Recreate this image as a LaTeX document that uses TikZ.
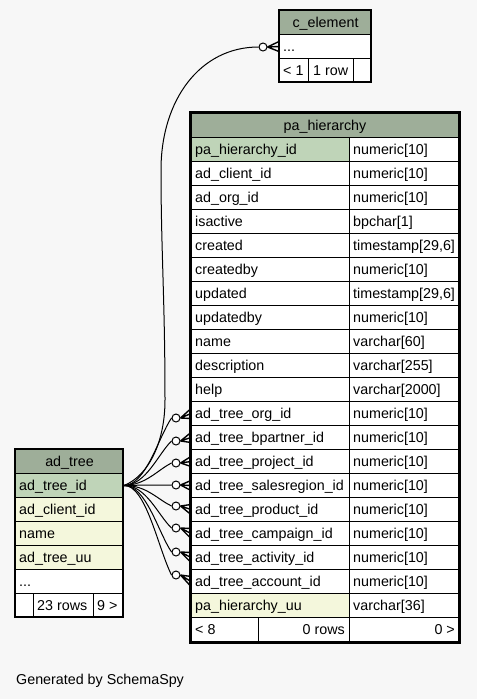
\documentclass[tikz,border=0pt]{standalone}
\usepackage{fontspec}
\setmainfont{Liberation Sans}
\usetikzlibrary{calc}
\definecolor{bg}{HTML}{F7F7F7}
\definecolor{hdr}{HTML}{9EAE99}
\definecolor{pk}{HTML}{BFD4B8}
\definecolor{idx}{HTML}{F4F7DC}
\newcommand\tf{\fontsize{14.3}{16}\selectfont}
\tikzset{
  cellbox/.style={draw=black, line width=1pt, minimum height=24, inner sep=0, anchor=north west},
  ltext/.style={anchor=base west, inner sep=0, font=\tf},
  rtext/.style={anchor=base east, inner sep=0, font=\tf},
  ctext/.style={anchor=base, inner sep=0, font=\tf},
  conn/.style={draw=black, line width=1pt},
  crow/.style={draw=black, line width=1.4pt},
  odot/.style={circle, draw=black, line width=1pt, fill=white, minimum size=8, inner sep=0},
}
% pa_hierarchy row
\newcommand\prow[4]{%
  \node[cellbox, fill=#4, minimum width=158] (pn#1) at (191,{137+24*#1}) {};
  \node[cellbox, fill=white, minimum width=109] (pt#1) at (349,{137+24*#1}) {};
  \node[ltext] at ($(pn#1.west)+(4,4.5)$) {#2};
  \node[ltext] at ($(pt#1.west)+(4,4.5)$) {#3};}
% foreign key connector from ad_tree.ad_tree_id to pa_hierarchy row
\newcommand\fkline[2]{%
  \node[odot] (o#1) at (176,#2) {};
  \draw[conn] (atid.east) .. controls (146,485) and (158,{#2+0.3*(485-#2)}) .. (o#1.west);
  \draw[crow] (o#1.east) -- ($(pn#1.west)+(0,-5)$)
              (o#1.east) -- (pn#1.west)
              (o#1.east) -- ($(pn#1.west)+(0,5)$);}
\begin{document}
\begin{tikzpicture}[x=1pt,y=-1pt]
\fill[bg] (0,0) rectangle (477,699);
\useasboundingbox (0,0) rectangle (477,699);

% ---------- c_element ----------
\node[cellbox, fill=hdr, minimum width=92] (ch) at (279,10) {};
\node[ctext] at ($(ch.center)+(0,4.5)$) {c\_element};
\node[cellbox, fill=white, minimum width=92] (cdots) at (279,34) {};
\node[ltext] at ($(cdots.west)+(4,4.5)$) {...};
\node[cellbox, fill=white, minimum width=29] (cf1) at (279,58) {};
\node[cellbox, fill=white, minimum width=45] (cf2) at (308,58) {};
\node[cellbox, fill=white, minimum width=18] (cf3) at (353,58) {};
\node[ltext] at ($(cf1.west)+(4,4.5)$) {< 1};
\node[ltext] at ($(cf2.west)+(5,4.5)$) {1 row};
\draw[line width=1.5pt] (279,10) rectangle (371,82);

% ---------- pa_hierarchy ----------
\node[cellbox, fill=hdr, minimum width=267] (ph) at (191,113) {};
\node[ctext] at ($(ph.center)+(0,4.5)$) {pa\_hierarchy};
\prow{0}{pa\_hierarchy\_id}{numeric[10]}{pk}
\prow{1}{ad\_client\_id}{numeric[10]}{white}
\prow{2}{ad\_org\_id}{numeric[10]}{white}
\prow{3}{isactive}{bpchar[1]}{white}
\prow{4}{created}{timestamp[29,6]}{white}
\prow{5}{createdby}{numeric[10]}{white}
\prow{6}{updated}{timestamp[29,6]}{white}
\prow{7}{updatedby}{numeric[10]}{white}
\prow{8}{name}{varchar[60]}{white}
\prow{9}{description}{varchar[255]}{white}
\prow{10}{help}{varchar[2000]}{white}
\prow{11}{ad\_tree\_org\_id}{numeric[10]}{white}
\prow{12}{ad\_tree\_bpartner\_id}{numeric[10]}{white}
\prow{13}{ad\_tree\_project\_id}{numeric[10]}{white}
\prow{14}{ad\_tree\_salesregion\_id}{numeric[10]}{white}
\prow{15}{ad\_tree\_product\_id}{numeric[10]}{white}
\prow{16}{ad\_tree\_campaign\_id}{numeric[10]}{white}
\prow{17}{ad\_tree\_activity\_id}{numeric[10]}{white}
\prow{18}{ad\_tree\_account\_id}{numeric[10]}{white}
\prow{19}{pa\_hierarchy\_uu}{varchar[36]}{idx}
\node[cellbox, fill=white, minimum width=67] (pf1) at (191,617) {};
\node[cellbox, fill=white, minimum width=91] (pf2) at (258,617) {};
\node[cellbox, fill=white, minimum width=109] (pf3) at (349,617) {};
\node[ltext] at ($(pf1.west)+(4,4.5)$) {< 8};
\node[rtext] at ($(pf2.east)+(-5,4.5)$) {0 rows};
\node[rtext] at ($(pf3.east)+(-4,4.5)$) {0 >};
\draw[line width=3pt] (190,112) rectangle (459,642);

% ---------- ad_tree ----------
\node[cellbox, fill=hdr, minimum width=108] (ah) at (15,449) {};
\node[ctext] at ($(ah.center)+(0,4.5)$) {ad\_tree};
\node[cellbox, fill=pk, minimum width=108] (atid) at (15,473) {};
\node[ltext] at ($(atid.west)+(4,4.5)$) {ad\_tree\_id};
\node[cellbox, fill=idx, minimum width=108] (acl) at (15,497) {};
\node[ltext] at ($(acl.west)+(4,4.5)$) {ad\_client\_id};
\node[cellbox, fill=idx, minimum width=108] (anm) at (15,521) {};
\node[ltext] at ($(anm.west)+(4,4.5)$) {name};
\node[cellbox, fill=idx, minimum width=108] (auu) at (15,545) {};
\node[ltext] at ($(auu.west)+(4,4.5)$) {ad\_tree\_uu};
\node[cellbox, fill=white, minimum width=108] (adots) at (15,569) {};
\node[ltext] at ($(adots.west)+(4,4.5)$) {...};
\node[cellbox, fill=white, minimum width=18] (af1) at (15,593) {};
\node[cellbox, fill=white, minimum width=60] (af2) at (33,593) {};
\node[cellbox, fill=white, minimum width=30] (af3) at (93,593) {};
\node[ltext] at ($(af2.west)+(4,4.5)$) {23 rows};
\node[ltext] at ($(af3.west)+(4,4.5)$) {9 >};
\draw[line width=1.5pt] (15,449) rectangle (123,617);

% ---------- connectors ----------
\fkline{11}{418}
\fkline{12}{441}
\fkline{13}{463}
\fkline{14}{485}
\fkline{15}{506}
\fkline{16}{528}
\fkline{17}{552}
\fkline{18}{575}

\node[odot] (oc) at (263,47) {};
\draw[conn] (atid.east) .. controls (150,475) and (165,440) .. (165,400)
   .. controls (165,300) and (161,250) .. (161,170)
   .. controls (161,100) and (200,47) .. (oc.west);
\draw[crow] (oc.east) -- ($(cdots.west)+(0,-5)$)
            (oc.east) -- (cdots.west)
            (oc.east) -- ($(cdots.west)+(0,5)$);

% ---------- footer text ----------
\node[anchor=base west, inner sep=0, font=\tf] (gen) at (16,684) {Generated by SchemaSpy};
\end{tikzpicture}
\end{document}
